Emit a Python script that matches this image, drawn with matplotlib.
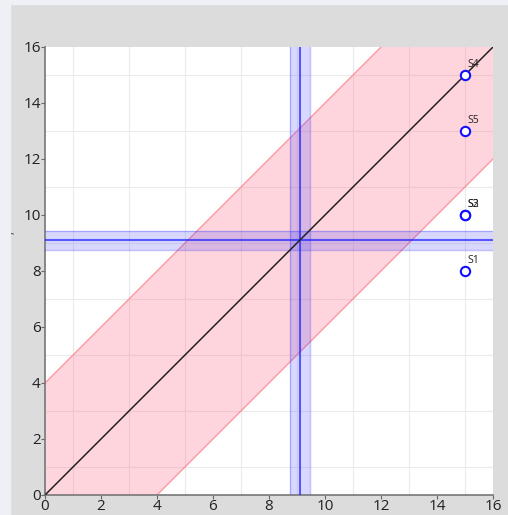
import numpy as np
import matplotlib
matplotlib.use("Agg")
import matplotlib.pyplot as plt
from matplotlib.patches import Rectangle

# sample points
names = ["S1", "S2", "S3", "S4", "S5"]
xs = [15, 15, 15, 15, 15]
ys = [8, 10, 10, 15, 13]

# reference lines
center_x = 9.12
center_x_lo, center_x_hi = 8.76, 9.48
center_y = 9.1
center_y_lo, center_y_hi = 8.74, 9.44
band = 4.0

ticks = [0, 2, 4, 6, 8, 10, 12, 14, 16]

plt.rcParams["font.family"] = ["Open Sans", "DejaVu Sans"]

fig = plt.figure(figsize=(5.08, 5.15), dpi=100)
fig.patch.set_facecolor("#dcdcdc")
fig.add_artist(Rectangle((0, 0), 10 / 508, 1, transform=fig.transFigure,
                         color="#eef0f6", zorder=0))
fig.add_artist(Rectangle((0, 1 - 4 / 515), 1, 4 / 515, transform=fig.transFigure,
                         color="#eef0f6", zorder=0))

ax = fig.add_axes([45 / 508, 20 / 515, 448 / 508, 448 / 515])
ax.set_facecolor("white")
ax.set_xlim(0, 16)
ax.set_ylim(0, 16)

# grid every unit
ax.set_xticks(np.arange(0, 17, 1), minor=True)
ax.set_yticks(np.arange(0, 17, 1), minor=True)
ax.grid(which="minor", color="#ebebeb", lw=0.8, zorder=0)
ax.set_axisbelow(True)

# y = x +/- band
xx = np.array([0, 16])
ax.fill_between(xx, xx - band, xx + band, color="#ff5a78", alpha=0.25, lw=0, zorder=1)
ax.plot(xx, xx + band, color="#ff6070", alpha=0.6, lw=1, zorder=2)
ax.plot(xx, xx - band, color="#ff6070", alpha=0.6, lw=1, zorder=2)

# vertical and horizontal bands
ax.axvspan(center_x_lo, center_x_hi, color="#4040ff", alpha=0.2, lw=0, zorder=2)
ax.axhspan(center_y_lo, center_y_hi, color="#4040ff", alpha=0.2, lw=0, zorder=2)
for v in (center_x_lo, center_x_hi):
    ax.axvline(v, color="#3030ff", alpha=0.3, lw=1, zorder=3)
for v in (center_y_lo, center_y_hi):
    ax.axhline(v, color="#3030ff", alpha=0.3, lw=1, zorder=3)
ax.axvline(center_x, color="#2020ff", alpha=0.7, lw=1.5, zorder=3)
ax.axhline(center_y, color="#2020ff", alpha=0.7, lw=1.5, zorder=3)

# identity line
ax.plot(xx, xx, color="#222222", lw=1.1, zorder=4)

ax.scatter(xs, ys, s=45, facecolors="white", edgecolors="#1010ff", lw=1.5, zorder=5)
for n, x, y in zip(names, xs, ys):
    ax.annotate(n, (x, y), xytext=(2, 6), textcoords="offset points",
                fontsize=7.5, color="#222222", zorder=6)

ax.set_xticks(ticks)
ax.set_yticks(ticks)
ax.tick_params(which="major", length=3, color="#666666", labelsize=11, pad=0,
               labelcolor="#222222")
ax.tick_params(which="minor", length=0)
for s in ("top", "right"):
    ax.spines[s].set_visible(False)
for s in ("left", "bottom"):
    ax.spines[s].set_color("#777777")
    ax.spines[s].set_linewidth(1.2)

# tiny axis title
fig.text(11 / 508, 1 - 233 / 515, ",", fontsize=8, color="#333333",
         rotation=90, ha="center", va="center")

fig.savefig("out.png", dpi=100, facecolor=fig.get_facecolor())
